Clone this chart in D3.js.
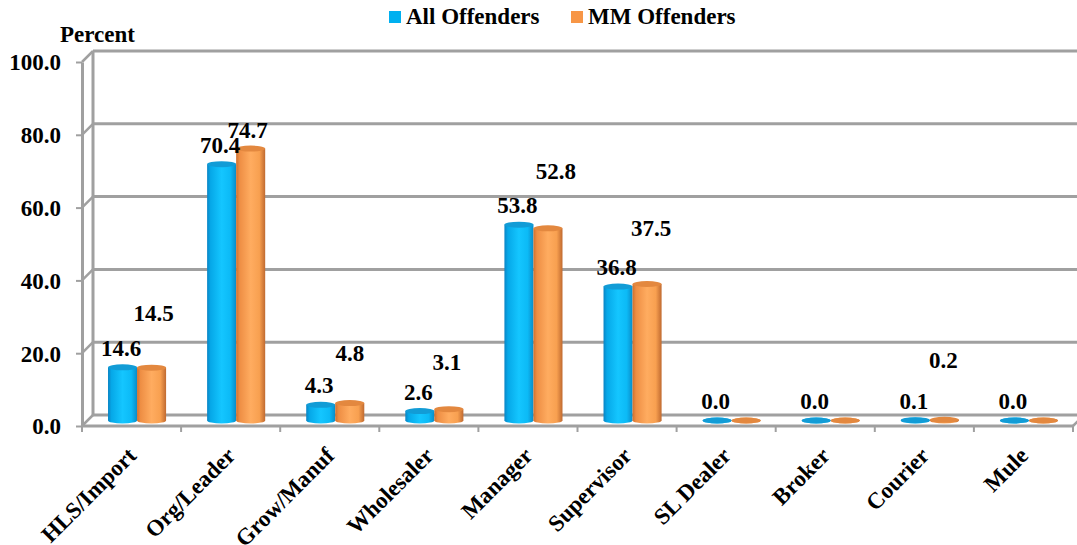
<!DOCTYPE html>
<html>
<head>
<meta charset="utf-8">
<script src="https://cdn.jsdelivr.net/npm/d3@7"></script>
<style>
  html, body { margin: 0; padding: 0; background: #fff; }
  svg { display: block; }
</style>
</head>
<body>
<svg id="chart" width="1077" height="545"></svg>
<script>
// ---- data ----
const categories = ["HLS/Import", "Org/Leader", "Grow/Manuf", "Wholesaler", "Manager", "Supervisor", "SL Dealer", "Broker", "Courier", "Mule"];
const seriesNames = ["All Offenders", "MM Offenders"];
const allOffenders = [14.6, 70.4, 4.3, 2.6, 53.8, 36.8, 0.0, 0.0, 0.1, 0.0];
const mmOffenders = [14.5, 74.7, 4.8, 3.1, 52.8, 37.5, 0.0, 0.0, 0.2, 0.0];
const yTicks = [0, 20, 40, 60, 80, 100];

// ---- style / layout ----
const colors = { all: "#00b0f0", mm: "#f79646" };
// label nudges for MM series as placed in the original (px); null = label not shown
const mmLabelNudge = [[2, -35], [-3, 1], [0, -31], [-2, -28], [8, -38], [4, -37], null, null, [-1, -40], null];
const FONT = 23;
const FAMILY = "'Liberation Serif', 'Times New Roman', Times, 'Nimbus Roman', 'DejaVu Serif', serif";
const depth = { dx: 11, dy: -11 };
const grid = "#a0a0a0";

const svg = d3.select("#chart");
const defs = svg.append("defs");

function styleText(sel, size) {
  sel.style("font-family", FAMILY).style("font-weight", "bold").style("font-size", size + "px").attr("fill", "#000");
}

function cylGrad(id, stops) {
  const g = defs.append("linearGradient").attr("id", id).attr("x1", "0%").attr("x2", "100%").attr("y1", "0%").attr("y2", "0%");
  stops.forEach(([o, c]) => g.append("stop").attr("offset", o).attr("stop-color", c));
}
cylGrad("gAll", [["0%", "#0a84c4"], ["12%", "#06a8e8"], ["50%", "#14c6ff"], ["80%", "#0cbaf6"], ["100%", "#0a8cc8"]]);
cylGrad("gMM", [["0%", "#d0702e"], ["12%", "#ee8e44"], ["50%", "#ffac60"], ["80%", "#f8a050"], ["100%", "#c06a30"]]);

const x = d3.scaleBand().domain(categories).range([82, 1073]).padding(0);
const y = d3.scaleLinear().domain([0, 100]).range([426, 62]);

// ---- back wall gridlines + connectors ----
const gridG = svg.append("g");
yTicks.forEach(v => {
  const yf = y(v), yb = y(v) + depth.dy;
  gridG.append("line").attr("x1", 82 + depth.dx).attr("x2", 1073 + depth.dx + 20)
    .attr("y1", yb).attr("y2", yb).attr("stroke", grid).attr("stroke-width", 3);
  gridG.append("line").attr("x1", 82).attr("y1", yf).attr("x2", 82 + depth.dx).attr("y2", yb)
    .attr("stroke", grid).attr("stroke-width", 2.5);
});
gridG.append("line").attr("x1", 82 + depth.dx).attr("x2", 82 + depth.dx)
  .attr("y1", y(0) + depth.dy).attr("y2", y(100) + depth.dy).attr("stroke", grid).attr("stroke-width", 3);
gridG.append("line").attr("x1", 82).attr("x2", 1073).attr("y1", y(0)).attr("y2", y(0))
  .attr("stroke", grid).attr("stroke-width", 3);
gridG.append("line").attr("x1", 1073).attr("y1", y(0)).attr("x2", 1073 + depth.dx).attr("y2", y(0) + depth.dy)
  .attr("stroke", grid).attr("stroke-width", 2.5);

// ---- y axis ----
const yAxis = d3.axisLeft(y).tickValues(yTicks).tickFormat(d3.format(".1f")).tickSize(6).tickSizeOuter(0).tickPadding(15);
const yg = svg.append("g").attr("transform", "translate(82,0)").call(yAxis);
yg.select(".domain").attr("stroke", grid).attr("stroke-width", 3);
yg.selectAll(".tick line").attr("stroke", grid).attr("stroke-width", 2);
yg.selectAll(".tick text").call(styleText, FONT).attr("dy", "0.34em");

svg.append("text").attr("x", 60).attr("y", 42).call(styleText, FONT).text("Percent");

// ---- x axis ----
const xAxis = d3.axisBottom(x).tickSize(0).tickPadding(0);
const xg = svg.append("g").attr("transform", `translate(0,${y(0)})`).call(xAxis);
xg.select(".domain").remove();
xg.selectAll(".tick text").call(styleText, FONT)
  .attr("text-anchor", "end").attr("dy", null).attr("y", 0)
  .attr("transform", "translate(6,31) rotate(-45)");
svg.append("g").selectAll("line").data(d3.range(categories.length + 1)).join("line")
  .attr("x1", i => i < categories.length ? x(categories[i]) : x.range()[1])
  .attr("x2", i => i < categories.length ? x(categories[i]) : x.range()[1])
  .attr("y1", y(0)).attr("y2", y(0) + 6).attr("stroke", grid).attr("stroke-width", 2);

// ---- bars (cylinders) ----
const barW = x.bandwidth() * 0.293;
const mid = { dx: depth.dx / 2, dy: depth.dy / 2 };
const ry = 3;
const rows = categories.map((c, i) => ({ c, i, all: allOffenders[i], mm: mmOffenders[i] }));

function drawCyl(g, cx, v, fillId, capColor) {
  const top = y(v) + mid.dy, bot = y(0) + mid.dy;
  g.append("ellipse").attr("cx", cx).attr("cy", bot).attr("rx", barW / 2).attr("ry", ry).attr("fill", `url(#${fillId})`);
  g.append("rect").attr("x", cx - barW / 2).attr("y", top).attr("width", barW).attr("height", Math.max(0, bot - top)).attr("fill", `url(#${fillId})`);
  g.append("ellipse").attr("cx", cx).attr("cy", top).attr("rx", barW / 2).attr("ry", ry).attr("fill", capColor);
}
const barsG = svg.append("g");
rows.forEach(r => {
  const center = x(r.c) + x.bandwidth() / 2 + mid.dx;
  const g = barsG.append("g");
  drawCyl(g, center - barW / 2, r.all, "gAll", "#129cd6");
  drawCyl(g, center + barW / 2, r.mm, "gMM", "#e3883f");
});

// ---- labels ----
const fmt = d3.format(".1f");
const labG = svg.append("g");
rows.forEach(r => {
  const center = x(r.c) + x.bandwidth() / 2 + mid.dx;
  labG.append("text").attr("text-anchor", "middle").call(styleText, FONT)
    .attr("x", center - barW / 2 - 1.5).attr("y", y(r.all) + mid.dy - 11.5).text(fmt(r.all));
  const n = mmLabelNudge[r.i];
  if (n) {
    labG.append("text").attr("text-anchor", "middle").call(styleText, FONT)
      .attr("x", center + barW / 2 + n[0]).attr("y", y(r.mm) + mid.dy - 11.5 + n[1]).text(fmt(r.mm));
  }
});

// ---- legend ----
const legendItems = [{ name: seriesNames[0], color: colors.all, x: 389 }, { name: seriesNames[1], color: colors.mm, x: 571 }];
const legend = svg.append("g");
legendItems.forEach(d => {
  legend.append("rect").attr("x", d.x).attr("y", 11).attr("width", 12).attr("height", 12).attr("fill", d.color);
  legend.append("text").attr("x", d.x + 17).attr("y", 24).call(styleText, FONT).text(d.name);
});
</script>
</body>
</html>
